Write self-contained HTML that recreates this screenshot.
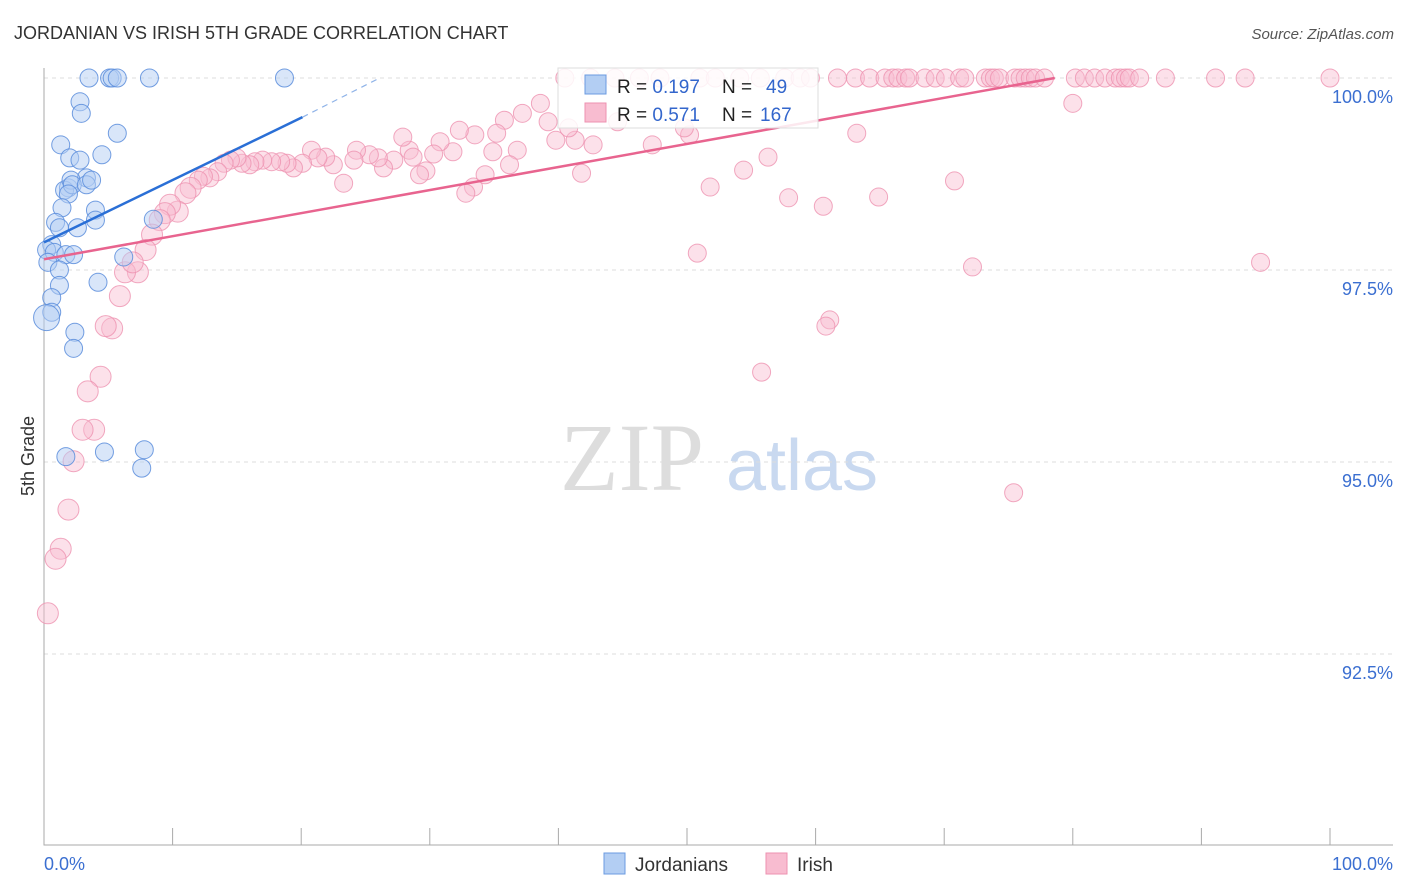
<!DOCTYPE html>
<html><head><meta charset="utf-8"><style>
body{margin:0;background:#fff;font-family:"Liberation Sans",sans-serif;}
#wrap{position:relative;width:1406px;height:892px;overflow:hidden;}
</style></head><body>
<div id="wrap">
<svg id="chart" width="1406" height="892" xmlns="http://www.w3.org/2000/svg">
<text x="14" y="39" font-size="18" fill="#333">JORDANIAN VS IRISH 5TH GRADE CORRELATION CHART</text>
<text x="1394" y="39" font-size="15" fill="#555" font-style="italic" text-anchor="end">Source: ZipAtlas.com</text>
<text x="34" y="456" font-size="18" fill="#333" transform="rotate(-90 34 456)" text-anchor="middle">5th Grade</text>
<g><text x="632" y="490" font-size="96" font-family="Liberation Serif,serif" fill="#ddd" text-anchor="middle">ZIP</text><text x="802" y="490" font-size="72" fill="#c9d9f0" text-anchor="middle">atlas</text></g>
<g id="grid"></g><g id="axes"></g><g id="pinkpts"></g><g id="bluepts"></g><g id="lines"></g>
<g>
<rect x="558" y="68" width="260" height="60" fill="#fff" fill-opacity="0.85" stroke="#ddd"/>
<rect x="585" y="75" width="21" height="19" fill="#b3cef3" stroke="#6b9be0"/>
<rect x="585" y="103" width="21" height="19" fill="#f8bcd0" stroke="#ee92b0"/>
<text x="617" y="93" font-size="19" fill="#222">R = <tspan fill="#3366cc">0.197</tspan><tspan x="722">N = </tspan><tspan x="766" fill="#3366cc">49</tspan></text>
<text x="617" y="121" font-size="19" fill="#222">R = <tspan fill="#3366cc">0.571</tspan><tspan x="722">N = </tspan><tspan x="760" fill="#3366cc">167</tspan></text>
</g>
<g>
<rect x="604" y="853" width="21" height="21" fill="#b3cef3" stroke="#6b9be0"/>
<text x="635" y="871" font-size="19" fill="#333">Jordanians</text>
<rect x="766" y="853" width="21" height="21" fill="#f8bcd0" stroke="#ee92b0"/>
<text x="797" y="871" font-size="19" fill="#333">Irish</text>
</g>
</svg>
</div>
<script>
const yTicks=[100,97.5,95,92.5];
const yTickLabels=["100.0%","97.5%","95.0%","92.5%"];
const xTicks=[0,10,20,30,40,50,60,70,80,90,100];
const blueX=[3.5,5.1,5.3,5.7,8.2,18.7,2.8,2.9,5.7,1.3,4.5,2.0,2.8,1.9,1.6,3.3,2.1,2.2,3.3,3.7,1.9,4.0,1.4,4.0,0.9,2.6,1.2,0.6,0.2,0.8,1.7,2.3,6.2,8.5,0.3,1.2,1.2,4.2,0.6,0.6,0.2,2.4,2.3,1.7,4.7,7.8,7.6];
const blueY=[100,100,100,100,100,100,99.69,99.54,99.28,99.13,99.0,98.96,98.93,98.57,98.54,98.70,98.67,98.61,98.61,98.67,98.49,98.28,98.31,98.15,98.12,98.05,98.05,97.83,97.76,97.73,97.70,97.70,97.67,98.16,97.60,97.50,97.30,97.34,97.14,96.95,96.88,96.69,96.48,95.07,95.13,95.16,94.92];
const pinkX=[40.5,42.5,44.4,46.3,47.9,51.0,52.2,54.1,55.7,57.6,58.8,59.6,61.7,63.1,64.2,65.4,66.0,66.4,67.0,67.3,68.5,69.3,70.1,71.2,71.6,73.2,73.6,73.9,74.3,75.5,75.9,76.3,76.7,77.1,77.8,80.2,80.9,81.7,82.5,83.3,83.7,84.1,84.4,85.2,87.2,91.1,93.4,100,
80.0,63.2,56.3,54.4,51.8,57.9,60.6,64.9,70.8,50.8,72.2,94.6,61.1,60.8,55.8,75.4,50.2,49.8,47.3,44.6,41.8,42.7,41.3,39.8,39.2,38.6,40.8,37.2,35.8,34.9,36.8,36.2,35.2,33.5,32.3,33.4,34.3,32.8,31.8,30.8,30.3,29.7,29.2,28.4,27.9,28.7,27.2,26.4,26.0,25.3,24.3,24.1,23.3,22.5,21.9,20.8,21.3,20.1,19.4,18.9,18.4,17.7,17.0,16.4,16.0,15.4,15.0,14.5,14.0,13.5,12.9,12.4,12.0,11.4,11.0,10.4,9.8,9.4,9.0,8.4,7.9,7.3,6.3,6.9,5.9,5.3,4.8,4.4,3.4,3.9,3.0,2.3,1.9,1.3,0.9,0.3];
const pinkY=[100,100,100,100,100,100,100,100,100,100,100,100,100,100,100,100,100,100,100,100,100,100,100,100,100,100,100,100,100,100,100,100,100,100,100,100,100,100,100,100,100,100,100,100,100,100,100,100,
99.67,99.28,98.97,98.80,98.58,98.44,98.33,98.45,98.66,97.72,97.54,97.60,96.85,96.77,96.17,94.60,99.26,99.35,99.13,99.43,98.76,99.13,99.19,99.19,99.43,99.67,99.35,99.54,99.45,99.04,99.06,98.87,99.28,99.26,99.32,98.58,98.74,98.50,99.04,99.17,99.01,98.79,98.74,99.06,99.23,98.97,98.93,98.83,98.96,99.00,99.06,98.93,98.63,98.87,98.97,99.06,98.96,98.89,98.83,98.89,98.91,98.91,98.93,98.91,98.87,98.89,98.96,98.93,98.89,98.78,98.70,98.72,98.67,98.57,98.50,98.26,98.35,98.24,98.15,97.96,97.76,97.47,97.47,97.60,97.16,96.74,96.77,96.11,95.92,95.42,95.42,95.01,94.38,93.87,93.74,93.03];
const blueTrend=[[0,97.86],[20.1,99.49],[26.1,100]];
const pinkTrend=[[0,97.64],[78.6,100]];
const NS="http://www.w3.org/2000/svg";
function xs(v){return 44+v*12.86;}
function ys(v){return 78+(100-v)*76.8;}
function mk(t,a,p){const e=document.createElementNS(NS,t);for(const k in a)e.setAttribute(k,a[k]);p.appendChild(e);return e;}
const grid=document.getElementById('grid'),axes=document.getElementById('axes');
yTicks.forEach((t,i)=>{
 const l=mk('line',{x1:44,x2:1393,y1:ys(t),y2:ys(t),stroke:'#ddd','stroke-dasharray':'4,4'},grid);
 
 
 const tx=mk('text',{x:1393,y:ys(t)+25,'font-size':18,fill:'#3b6fd1','text-anchor':'end'},grid);
 tx.textContent=yTickLabels[i];
 
 
});
const ax=mk('path',{d:'M44 68V845H1393',stroke:'#aaa',fill:'none'},axes);


xTicks.forEach(t=>{
 const l=mk('line',{x1:xs(t),x2:xs(t),y1:828,y2:845,stroke:'#aaa'},axes);
 
 
});
const xl0=mk('text',{x:44,y:870,'font-size':18,fill:'#3b6fd1'},axes);xl0.textContent='0.0%';


const xl1=mk('text',{x:1393,y:870,'font-size':18,fill:'#3b6fd1','text-anchor':'end'},axes);xl1.textContent='100.0%';


const pg=document.getElementById('pinkpts');
pinkX.forEach((x,i)=>{
 const c=mk('circle',{cx:xs(x),cy:ys(pinkY[i]),r:x<12?10.5:9,fill:'#f8bcd0','fill-opacity':0.45,stroke:'#ee92b0','stroke-opacity':0.8},pg);
 
 
});
const bg=document.getElementById('bluepts');
blueX.forEach((x,i)=>{
 const c=mk('circle',{cx:xs(x),cy:ys(blueY[i]),r:i==40?13:9,fill:'#b3cef3','fill-opacity':0.5,stroke:'#5b8ddc','stroke-opacity':0.85},bg);
 
 
});
const lg=document.getElementById('lines');
const b1=mk('line',{x1:xs(blueTrend[0][0]),y1:ys(blueTrend[0][1]),x2:xs(blueTrend[1][0]),y2:ys(blueTrend[1][1]),stroke:'#2a6fd6','stroke-width':2.5},lg);


const b2=mk('line',{x1:xs(blueTrend[1][0]),y1:ys(blueTrend[1][1]),x2:xs(blueTrend[2][0]),y2:ys(blueTrend[2][1]),stroke:'#8fb3e8','stroke-width':1.2,'stroke-dasharray':'6,5'},lg);


const p1=mk('line',{x1:xs(pinkTrend[0][0]),y1:ys(pinkTrend[0][1]),x2:xs(pinkTrend[1][0]),y2:ys(pinkTrend[1][1]),stroke:'#e8648f','stroke-width':2.5},lg);


</script>
</body></html>
